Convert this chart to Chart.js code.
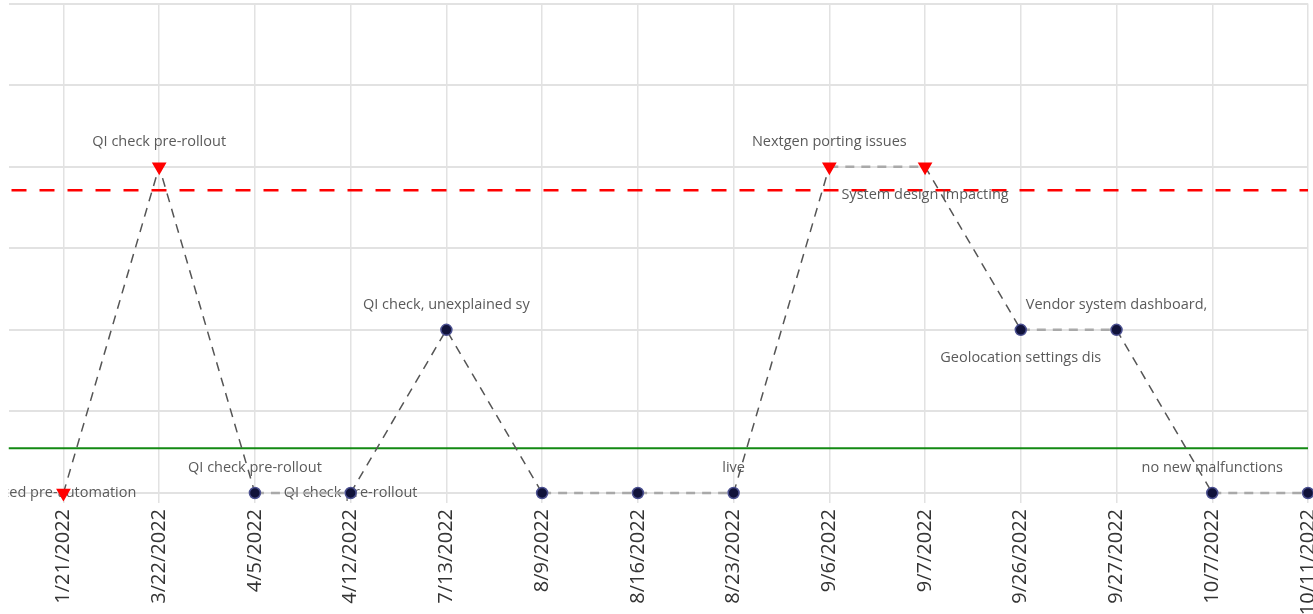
<!DOCTYPE html>
<html><head><meta charset="utf-8">
<script src="https://cdn.jsdelivr.net/npm/chart.js@4"></script>
<style>
html,body{margin:0;padding:0;background:#fff;overflow:hidden;width:1313px;height:614px}
#wrap{position:absolute;left:0;top:-5px;width:1340px;height:638px}
</style></head><body>
<div id="wrap"><canvas id="c"></canvas></div>
<script>
const dates = ['1/21/2022','3/22/2022','4/5/2022','4/12/2022','7/13/2022','8/9/2022','8/16/2022','8/23/2022','9/6/2022','9/7/2022','9/26/2022','9/27/2022','10/7/2022','10/11/2022'];
const counts = [0,4,0,0,2,0,0,0,4,4,2,2,0,0];
const flagged = [true,true,false,false,false,false,false,false,true,true,false,false,false,false];
const notes = ['Fixed pre-automation','QI check pre-rollout','QI check pre-rollout','QI check pre-rollout','QI check, unexplained sy','','','live','Nextgen porting issues','System design impacting','Geolocation settings dis','Vendor system dashboard,','no new malfunctions',''];
const notePlacement = ['center','above','above','center','above','','','above','above','below','below','above','above',''];
const upperLimit = 3.71;
const targetLine = 0.55;

const points = counts.map((v,i)=>({x:i,y:v}));
const flat = ctx => ctx.p0.parsed.y === ctx.p1.parsed.y;

const refAndNotes = {
  id:'refAndNotes',
  beforeDatasetsDraw(chart){
    const {ctx, chartArea:a, scales:{x,y}} = chart;
    ctx.save();
    ctx.beginPath(); ctx.rect(a.left, 0, a.right-a.left, chart.height); ctx.clip();
    let py = y.getPixelForValue(upperLimit);
    ctx.strokeStyle='#ff0000'; ctx.lineWidth=2.5; ctx.setLineDash([15,13]);
    ctx.beginPath(); ctx.moveTo(a.left+3,py); ctx.lineTo(a.right,py); ctx.stroke();
    py = y.getPixelForValue(targetLine);
    ctx.strokeStyle='#138a13'; ctx.lineWidth=2; ctx.setLineDash([]);
    ctx.beginPath(); ctx.moveTo(a.left,py); ctx.lineTo(a.right,py); ctx.stroke();
    ctx.font='14.5px "Open Sans"'; ctx.fillStyle='#5a5a5a'; ctx.textAlign='center'; ctx.textBaseline='middle';
    notes.forEach((t,i)=>{
      if(!t) return;
      const px = x.getPixelForValue(i);
      let ty = y.getPixelForValue(counts[i]);
      if(notePlacement[i]==='above') ty -= 25;
      else if(notePlacement[i]==='below') ty += 28;
      ctx.fillText(t, px, ty);
    });
    ctx.restore();
  }
};

new Chart(document.getElementById('c'), {
  type:'line',
  data:{ datasets:[{
    data: points,
    clip: false,
    borderColor:'#555',
    borderWidth:1.5,
    borderDash:[9,7],
    fill:false,
    tension:0,
    segment:{
      borderColor: c => flat(c) ? '#a9a9a9' : '#555555',
      borderWidth: c => flat(c) ? 2.5 : 1.5,
      borderDash: c => [9,7]
    },
    pointStyle: flagged.map(f => f ? 'triangle' : 'circle'),
    rotation: flagged.map(f => f ? 180 : 0),
    pointRadius: flagged.map(f => f ? 7 : 5.5),
    pointHoverRadius: flagged.map(f => f ? 7 : 5.5),
    pointBackgroundColor: flagged.map(f => f ? '#ff0000' : '#10123a'),
    pointBorderColor: flagged.map(f => f ? '#ff0000' : '#4b5090'),
    pointBorderWidth: 1.5
  }]},
  options:{
    responsive:true, maintainAspectRatio:false, animation:false,
    layout:{padding:{left:7, top:3, right:32, bottom:0}},
    plugins:{legend:{display:false}, tooltip:{enabled:false}},
    scales:{
      x:{
        type:'linear', min:-0.574, max:13,
        afterFit: s => { s.height = 140; },
        grid:{color:'#e2e2e2', lineWidth:1.5, tickLength:10, drawTicks:true},
        border:{color:'#e2e2e2', width:2},
        ticks:{stepSize:1, includeBounds:false, autoSkip:false, minRotation:90, maxRotation:90, padding:6,
          color:'#333', font:{family:'"Open Sans"', size:20},
          callback: v => dates[v] ?? ''}
      },
      y:{
        min:0, max:6,
        afterFit: s => { s.width = 0; },
        grid:{color:'#e2e2e2', lineWidth:2, drawTicks:false},
        border:{display:false},
        ticks:{display:false, stepSize:1}
      }
    }
  },
  plugins:[refAndNotes]
});
</script>
</body></html>
